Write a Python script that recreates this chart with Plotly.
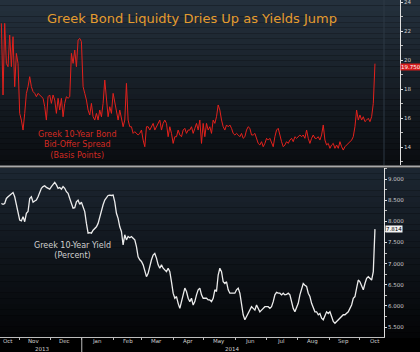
import pandas as pd
import plotly.graph_objects as go

# ---------------- data ----------------
start_date = "2013-10-14"
end_date = "2014-10-16"

spread_bp = [
    22.53, 17.59, 22.53, 19.77, 19.54, 21.72, 19.54, 21.61, 18.16, 20.46,
    19.77, 16.32, 15.86, 15.17, 16.32, 17.70, 18.16, 18.85, 18.16, 17.82,
    17.70, 17.47, 17.70, 17.59, 17.47, 17.36, 16.78, 15.86, 17.47, 17.59,
    17.01, 17.59, 17.24, 16.32, 17.36, 16.55, 17.36, 16.09, 17.01, 17.47,
    17.36, 17.47, 20.46, 19.77, 20.69, 19.54, 21.38, 21.49, 21.27, 18.16,
    17.70, 17.24, 16.55, 16.21, 17.01, 16.09, 15.86, 16.32, 15.86, 16.55,
    16.09, 17.01, 18.62, 17.01, 16.09, 16.78, 16.32, 17.70, 17.01, 16.55,
    15.86, 16.55, 15.86, 15.40, 15.86, 18.39, 15.86, 15.40, 15.40, 14.94,
    15.06, 14.94, 14.83, 14.94, 15.17, 14.48, 14.02, 15.40, 15.40, 15.17,
    15.40, 15.63, 15.17, 15.40, 15.63, 15.86, 15.17, 15.63, 15.86, 15.63,
    14.71, 15.40, 14.94, 14.25, 14.71, 14.71, 15.17, 14.83, 14.71, 15.17,
    15.29, 14.94, 15.17, 15.17, 15.40, 14.94, 15.29, 15.63, 15.17,
    15.86, 14.25, 15.63, 14.71, 15.63, 15.17, 15.40, 14.94, 15.86, 15.63,
    16.09, 16.90, 16.55, 15.86, 15.40, 15.17, 15.52, 15.40, 15.52, 15.29,
    14.94, 14.83, 14.94, 14.83, 14.71, 14.94, 14.60, 14.71, 15.17, 15.40,
    15.29, 14.83, 14.83, 14.94, 14.60, 14.25, 14.14, 14.37, 14.02, 14.25,
    14.60, 14.48, 14.60, 14.25, 14.02, 14.71, 15.17, 15.29, 14.71, 14.37,
    14.02, 14.14, 14.37, 14.25, 14.48, 14.60, 14.37, 14.71, 14.60, 14.71,
    14.83, 14.71, 14.83, 14.60, 15.17, 14.60, 14.25, 14.60, 14.83, 14.60,
    14.60, 14.71, 14.48, 14.83, 15.52, 14.48, 14.14, 14.25, 13.91, 14.14,
    14.25, 13.91, 14.14, 13.91, 14.37, 14.02, 13.79, 14.02, 14.14, 14.25,
    14.37, 14.48, 14.71, 15.40, 16.55, 15.86, 16.21, 15.86, 16.09, 15.75,
    15.86, 15.98, 15.75, 16.09, 17.01, 19.75,
]

yield_pct = [
    8.42, 8.40, 8.42, 8.54, 8.58, 8.62, 8.66, 8.68, 8.58, 8.39,
    8.15, 8.03, 8.01, 8.11, 7.99, 8.19, 8.23, 8.54, 8.58, 8.45,
    8.48, 8.50, 8.58, 8.70, 8.78, 8.82, 8.84, 8.80, 8.78, 8.76,
    8.82, 8.87, 8.92, 8.86, 8.78, 8.80, 8.76, 8.82, 8.78, 8.70,
    8.66, 8.54, 8.42, 8.31, 8.32, 8.46, 8.50, 8.40, 8.45, 8.31,
    8.23, 7.95, 7.72, 7.73, 7.72, 7.79, 7.83, 7.87, 7.95, 8.11,
    8.23, 8.39, 8.50, 8.57, 8.61, 8.62, 8.61, 8.62, 8.46, 8.19,
    8.07, 7.87, 7.76, 7.44, 7.68, 7.56, 7.64, 7.61, 7.64, 7.60,
    7.56, 7.40, 7.16, 7.09, 7.05, 6.97, 6.85, 6.69, 6.77, 6.97,
    7.09, 7.20, 7.24, 7.13, 6.97, 6.89, 6.97, 6.89, 6.85, 6.81,
    6.89, 6.81, 6.57, 6.30, 6.18, 6.22, 6.06, 5.94, 6.10, 6.26,
    6.42, 6.34, 6.18, 6.10, 6.18, 6.02, 6.10, 6.26, 6.38,
    6.42, 6.26, 6.18, 6.18, 6.18, 6.14, 6.14, 6.10, 6.18, 6.38,
    6.34, 6.73, 6.89, 6.81, 6.57, 6.53, 6.57, 6.38, 6.30, 6.30,
    6.30, 6.30, 6.38, 6.42, 6.30, 6.02, 5.79, 5.67, 5.75, 5.82,
    5.90, 5.98, 5.94, 5.90, 6.02, 5.94, 5.86, 5.90, 5.94, 5.98,
    5.98, 5.98, 5.94, 5.98, 6.10, 6.26, 6.32, 6.30, 6.30, 6.26,
    6.30, 6.26, 6.27, 6.30, 6.26, 6.10, 5.94, 5.86, 5.94, 6.06,
    6.26, 6.42, 6.53, 6.49, 6.46, 6.30, 6.22, 6.06, 5.94, 5.86,
    5.86, 5.79, 5.82, 5.71, 5.67, 5.79, 5.86, 5.82, 5.86, 5.75,
    5.63, 5.59, 5.63, 5.67, 5.71, 5.75, 5.79, 5.79, 5.82, 5.86,
    5.94, 6.02, 6.18, 6.22, 6.42, 6.61, 6.57, 6.49, 6.38, 6.53,
    6.65, 6.69, 6.65, 6.61, 6.81, 7.814,
]

month_labels = ["Oct", "Nov", "Dec", "Jan", "Feb", "Mar", "Apr", "May",
                "Jun", "Jul", "Aug", "Sep", "Oct"]
month_label_dates = ["2013-10-21", "2013-11-15", "2013-12-15", "2014-01-16",
                     "2014-02-15", "2014-03-15", "2014-04-15", "2014-05-16",
                     "2014-06-15", "2014-07-16", "2014-08-16", "2014-09-15",
                     "2014-10-16"]
month_starts = ["2013-11-01", "2013-12-01", "2014-01-01", "2014-02-01",
                "2014-03-01", "2014-04-01", "2014-05-01", "2014-06-01",
                "2014-07-01", "2014-08-01", "2014-09-01", "2014-10-01"]
year_labels = ["2013", "2014"]
year_label_dates = ["2013-11-23", "2014-05-29"]
spread_ticks = [14, 16, 18, 20, 22, 24]
yield_ticks = [5.5, 6.0, 6.5, 7.0, 7.5, 8.0, 8.5, 9.0]

title_text = "Greek Bond Liquidty Dries Up as Yields Jump"
spread_label = "Greek 10-Year Bond<br>Bid-Offer Spread<br>(Basis Points)"
yield_label = "Greek 10-Year Yield<br>(Percent)"
spread_last_text = "19.750"
yield_last_text = "7.814"

# ---------------- figure ----------------
dates = pd.date_range(start_date, end_date, periods=len(spread_bp))

W, H = 420, 352
px_per_day = 1.018
d0 = pd.Timestamp("2013-10-12 16:00")
bottom_end = d0 + pd.Timedelta(days=384 / px_per_day)
top_end = d0 + pd.Timedelta(days=400 / px_per_day)

def py(y):
    return 1 - y / H

top_dom = [py(165), 1.0]
bot_dom = [py(337), py(168)]

fig = go.Figure()

fig.add_trace(go.Scatter(x=dates, y=spread_bp, mode="lines",
                         line=dict(color="#e3211c", width=1.0),
                         xaxis="x2", yaxis="y2", showlegend=False,
                         hoverinfo="skip"))
fig.add_trace(go.Scatter(x=dates, y=yield_pct, mode="lines",
                         line=dict(color="#ececec", width=1.3),
                         xaxis="x", yaxis="y", showlegend=False,
                         hoverinfo="skip"))

# gradient backgrounds (bands)
def band(y_top, y_bot, c_top, c_bot, n=30):
    for i in range(n):
        t = i / (n - 1)
        c = tuple(int(round(a + (b - a) * t)) for a, b in zip(c_top, c_bot))
        ya = y_top + (y_bot - y_top) * i / n
        yb = y_top + (y_bot - y_top) * (i + 1) / n
        fig.add_shape(type="rect", xref="paper", yref="paper",
                      x0=0, x1=1, y0=py(yb), y1=py(ya),
                      fillcolor="rgb(%d,%d,%d)" % c, line=dict(width=0),
                      layer="below")

band(0, 166, (36, 48, 60), (10, 13, 17))
band(168, 338, (28, 38, 49), (4, 5, 7))

# separator line
fig.add_shape(type="line", xref="paper", yref="paper", x0=0, x1=1,
              y0=py(166.5), y1=py(166.5), line=dict(color="#a8a8a8", width=2))
# faint vertical line in top panel continuing bottom axis
fig.add_shape(type="line", xref="paper", yref="paper", x0=384 / W, x1=384 / W,
              y0=py(165), y1=1, line=dict(color="#2c3844", width=1))
# year separator tick
fig.add_shape(type="line", xref="x", yref="paper", x0="2014-01-01",
              x1="2014-01-01", y0=0, y1=py(338),
              line=dict(color="#bbbbbb", width=1))

axis_font = dict(family="DejaVu Sans", size=5.5, color="#cfcfcf")

fig.update_layout(
    width=W, height=H,
    margin=dict(l=0, r=0, t=0, b=0),
    paper_bgcolor="#000000",
    plot_bgcolor="rgba(0,0,0,0)",
    xaxis=dict(domain=[0, 384 / W], range=[d0, bottom_end], anchor="y",
               showgrid=False, zeroline=False,
               showline=True, linecolor="#bdbdbd", linewidth=1,
               tickmode="array", tickvals=month_starts,
               showticklabels=False, ticks="outside", ticklen=2,
               tickcolor="#bdbdbd"),
    yaxis=dict(domain=bot_dom, range=[5.264, 9.26], anchor="x", side="right",
               showgrid=False, zeroline=False,
               showline=True, linecolor="#e0e0e0", linewidth=1,
               tickmode="array", tickvals=yield_ticks, tickformat=".3f",
               ticks="outside", ticklen=2, tickcolor="#e0e0e0",
               tickfont=axis_font, ticklabeloverflow="allow",
               minor=dict(dtick=0.25, ticks="outside", ticklen=2,
                          tickcolor="#bbbbbb")),
    xaxis2=dict(domain=[0, 400 / W], range=[d0, top_end], anchor="y2",
                showgrid=False, zeroline=False, showline=False,
                showticklabels=False, ticks=""),
    yaxis2=dict(domain=top_dom, range=[12.76, 24.14], anchor="x2",
                side="right", showgrid=False, zeroline=False,
                showline=True, linecolor="#e0e0e0", linewidth=1,
                tickmode="array", tickvals=spread_ticks,
                ticks="outside", ticklen=2, tickcolor="#e0e0e0",
                tickfont=axis_font, ticklabeloverflow="allow",
                minor=dict(dtick=1, ticks="outside", ticklen=2,
                           tickcolor="#bbbbbb")),
)

annotations = [
    dict(text=title_text, x=192 / W, y=py(18), xref="paper", yref="paper",
         showarrow=False, xanchor="center", yanchor="middle",
         font=dict(family="DejaVu Sans", size=13, color="#e59c2f")),
    dict(text=spread_label, x=77 / W, y=py(145), xref="paper", yref="paper",
         showarrow=False, xanchor="center", yanchor="middle",
         font=dict(family="DejaVu Sans", size=8, color="#d42a22")),
    dict(text=yield_label, x=72 / W, y=py(250), xref="paper", yref="paper",
         showarrow=False, xanchor="center", yanchor="middle",
         font=dict(family="DejaVu Sans", size=8, color="#d0d0d0")),
    dict(text=spread_last_text, x=400 / W, y=spread_bp[-1], xref="paper",
         yref="y2", showarrow=False, xanchor="left", yanchor="top",
         yshift=1, bgcolor="#d41c1c", borderpad=0,
         font=dict(family="DejaVu Sans", size=5.5, color="#ffffff")),
    dict(text=yield_last_text, x=385 / W, y=yield_pct[-1], xref="paper",
         yref="y", showarrow=False, xanchor="left", yanchor="middle",
         bgcolor="#f2f2f2", borderpad=0,
         font=dict(family="DejaVu Sans", size=5.5, color="#000000")),
]
for lab, d in zip(month_labels, month_label_dates):
    annotations.append(dict(text=lab, x=d, y=py(341), xref="x", yref="paper",
                            showarrow=False, xanchor="center",
                            yanchor="middle", font=axis_font))
for lab, d in zip(year_labels, year_label_dates):
    annotations.append(dict(text=lab, x=d, y=py(348.5), xref="x",
                            yref="paper", showarrow=False, xanchor="center",
                            yanchor="middle", font=axis_font))
fig.update_layout(annotations=annotations)

fig.write_html("out.html")
